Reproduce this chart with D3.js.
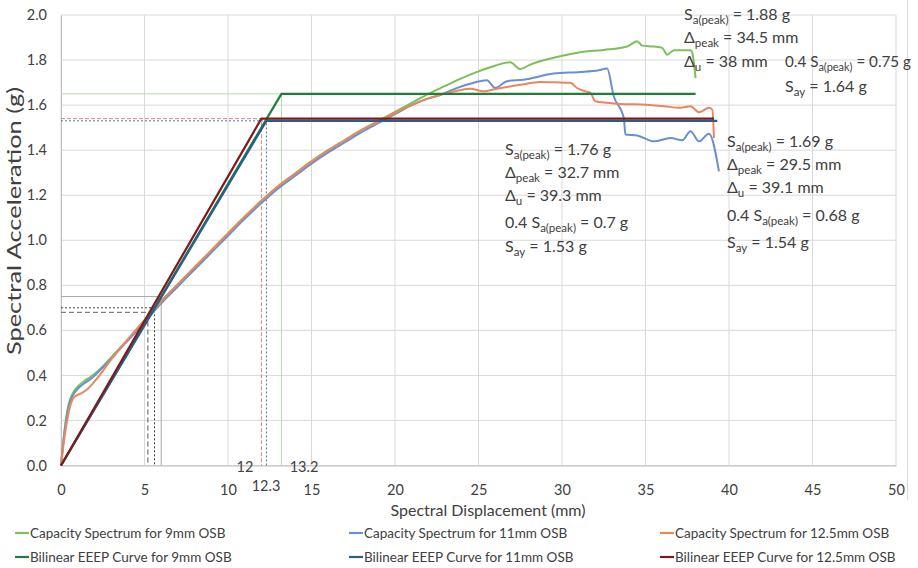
<!DOCTYPE html>
<html>
<head>
<meta charset="utf-8">
<script src="https://cdn.jsdelivr.net/npm/d3@7"></script>
<style>
  body { margin: 0; background: #fff; }
  svg text { font-family: Lato, "Open Sans", sans-serif; fill: #404040; }
</style>
</head>
<body>
<svg id="chart" width="918" height="568"></svg>
<script>
// capacity spectra [Sd (mm), Sa (g)]
const cap9 = [
  [0, 0], [0.2, 0.15], [0.45, 0.27], [0.7, 0.32], [1.0, 0.35], [1.4, 0.375], [1.8, 0.395],
  [2.5, 0.44], [3.5, 0.52], [4.5, 0.6], [5.4, 0.68], [6, 0.73], [7, 0.805], [8, 0.88],
  [9, 0.955], [10, 1.03], [11, 1.105], [12, 1.175], [13, 1.24], [14, 1.295], [15, 1.35],
  [16, 1.4], [17, 1.445], [18, 1.49], [19, 1.53], [20, 1.57], [21, 1.61], [22, 1.65],
  [23, 1.685], [24, 1.72], [25, 1.75], [26, 1.775], [26.9, 1.79], [27.5, 1.76], [28.1, 1.78],
  [29.5, 1.81], [31.1, 1.835], [32.5, 1.845], [33.9, 1.86], [34.5, 1.884], [34.8, 1.864],
  [35.5, 1.86], [36, 1.854], [36.3, 1.824], [36.7, 1.844], [37.7, 1.844], [37.8, 1.832], [38.0, 1.72]
];
const cap11 = [
  [0, 0], [0.2, 0.14], [0.45, 0.26], [0.7, 0.31], [1.0, 0.34], [1.4, 0.365], [1.8, 0.385],
  [2.5, 0.435], [3.5, 0.515], [4.5, 0.595], [5.4, 0.67], [6, 0.72], [7, 0.795], [8, 0.87],
  [9, 0.945], [10, 1.02], [11, 1.095], [12, 1.165], [13, 1.23], [14, 1.285], [15, 1.34],
  [16, 1.39], [17, 1.435], [18, 1.48], [19, 1.52], [20, 1.56], [21, 1.6], [22, 1.63],
  [22.7, 1.645], [23.5, 1.67], [24.5, 1.695], [25.5, 1.71], [26, 1.676], [26.7, 1.706],
  [27.7, 1.713], [29.5, 1.74], [31.1, 1.747], [32.2, 1.755], [32.7, 1.762], [33.1, 1.639],
  [33.7, 1.543], [33.8, 1.469], [34.5, 1.465], [35.5, 1.439], [36.5, 1.454], [37.2, 1.444],
  [37.7, 1.484], [38.2, 1.439], [38.8, 1.473], [39.4, 1.306]
];
const cap125 = [
  [0, 0], [0.2, 0.12], [0.5, 0.25], [0.8, 0.305], [1.2, 0.32], [1.6, 0.34], [2.2, 0.39],
  [3, 0.47], [4, 0.56], [5, 0.645], [6, 0.728], [7, 0.805], [8, 0.88], [9, 0.955],
  [10, 1.03], [11, 1.105], [12, 1.175], [13, 1.24], [14, 1.295], [15, 1.35], [16, 1.4],
  [17, 1.445], [18, 1.49], [19, 1.525], [20, 1.565], [21, 1.6], [22, 1.63], [22.7, 1.645],
  [23.5, 1.66], [24.5, 1.673], [25.3, 1.661], [26.1, 1.673], [27.5, 1.69], [28.7, 1.703],
  [29.5, 1.701], [30.5, 1.699], [30.9, 1.676], [31.4, 1.661], [31.7, 1.654], [32.0, 1.617],
  [32.7, 1.61], [33.5, 1.605], [35.1, 1.602], [36.1, 1.595], [37.1, 1.588], [37.7, 1.595],
  [38.2, 1.568], [38.8, 1.588], [39.0, 1.58], [39.1, 1.454]
];

// bilinear EEEP curves
const bil9 = [[0, 0], [13.2, 1.65], [38, 1.65]];
const bil11 = [[0, 0], [12.3, 1.53], [39.3, 1.53]];
const bil125 = [[0, 0], [12, 1.54], [39.1, 1.54]];

// guide lines: [Sd, Sa]
const guides = [
  {pt: [13.2, 1.65], color: '#b5dba0', dash: null, w: 1},
  {pt: [12, 1.54], color: '#c98a86', dash: '4,2', w: 1},
  {pt: [12.3, 1.53], color: '#4a6fc0', dash: '2,2', w: 1},
  {pt: [6.0, 0.75], color: '#a6a6a6', dash: null, w: 1},
  {pt: [5.6, 0.70], color: '#404040', dash: '2,2', w: 1},
  {pt: [5.2, 0.68], color: '#7f7f7f', dash: '5,3', w: 1.3}
];

const xTicks = [0, 5, 10, 15, 20, 25, 30, 35, 40, 45, 50];
const yTicks = [0, 0.2, 0.4, 0.6, 0.8, 1.0, 1.2, 1.4, 1.6, 1.8, 2.0];

const seriesNames = [
  'Capacity Spectrum for 9mm OSB', 'Capacity Spectrum for 11mm OSB', 'Capacity Spectrum for 12.5mm OSB',
  'Bilinear EEEP Curve for 9mm OSB', 'Bilinear EEEP Curve for 11mm OSB', 'Bilinear EEEP Curve for 12.5mm OSB'
];
const seriesColors = ['#7dbf5a', '#6a8fd0', '#e8875e', '#1f7e3a', '#24608a', '#7d1a1a'];
const seriesData = [cap9, cap11, cap125, bil9, bil11, bil125];

const svg = d3.select('#chart');
const x = d3.scaleLinear().domain([0, 50]).range([61, 896]);
const y = d3.scaleLinear().domain([0, 2]).range([465.5, 15]);

// chart area edge on the right
svg.append('line').attr('x1', 907.5).attr('x2', 907.5).attr('y1', 0).attr('y2', 500)
  .attr('stroke', '#d9d9d9');

// gridlines
svg.append('g').selectAll('line').data(xTicks).join('line')
  .attr('x1', d => x(d)).attr('x2', d => x(d))
  .attr('y1', y(0)).attr('y2', y(2))
  .attr('stroke', '#d9d9d9').attr('stroke-width', 1);
svg.append('g').selectAll('line').data(yTicks).join('line')
  .attr('x1', x(0)).attr('x2', x(50))
  .attr('y1', d => y(d)).attr('y2', d => y(d))
  .attr('stroke', '#d9d9d9').attr('stroke-width', 1);

// axes
const xAxis = svg.append('g').attr('transform', `translate(0,${y(0)})`)
  .call(d3.axisBottom(x).tickValues(xTicks).tickSize(0).tickPadding(19).tickFormat(d3.format('d')));
const yAxis = svg.append('g').attr('transform', `translate(${x(0)},0)`)
  .call(d3.axisLeft(y).tickValues(yTicks).tickSize(0).tickPadding(14).tickFormat(d3.format('.1f')));
[xAxis, yAxis].forEach(a => {
  a.select('.domain').attr('stroke', '#bfbfbf');
  a.selectAll('text').style('font-size', '14.5px').attr('fill', '#404040');
});

// guide lines
guides.forEach(g => {
  svg.append('polyline')
    .attr('points', [[x(0), y(g.pt[1])], [x(g.pt[0]), y(g.pt[1])], [x(g.pt[0]), y(0)]].join(' '))
    .attr('fill', 'none').attr('stroke', g.color).attr('stroke-width', g.w)
    .attr('stroke-dasharray', g.dash);
});

// curves
const line = d3.line().x(d => x(d[0])).y(d => y(d[1]));
seriesData.forEach((s, i) => {
  svg.append('path').datum(s)
    .attr('d', line.curve(i < 3 ? d3.curveMonotoneX : d3.curveLinear))
    .attr('fill', 'none').attr('stroke', seriesColors[i])
    .attr('stroke-width', i < 3 ? 2 : 2.2).attr('stroke-linejoin', 'round');
});

// extra labels at yield displacements
[['12', 245, 472], ['12.3', 266, 491], ['13.2', 304, 472]].forEach(l => {
  svg.append('text').text(l[0]).attr('x', l[1]).attr('y', l[2])
    .attr('text-anchor', 'middle').style('font-size', '14.5px');
});

// axis titles
svg.append('text').text('Spectral Displacement (mm)')
  .attr('x', 488).attr('y', 516).attr('text-anchor', 'middle').style('font-size', '16px');
svg.append('text').text('Spectral Acceleration (g)')
  .attr('transform', 'translate(21,221) rotate(-90)').attr('text-anchor', 'middle')
  .attr('textLength', 268).attr('lengthAdjust', 'spacingAndGlyphs').style('font-size', '19px');

// annotations
function note(xp, yp, parts, len) {
  const t = svg.append('text').attr('x', xp).attr('y', yp).style('font-size', '16px').attr('fill', '#262626');
  if (len) t.attr('textLength', len).attr('lengthAdjust', 'spacingAndGlyphs');
  parts.forEach(p => {
    if (p.sub) {
      t.append('tspan').text(p.t).attr('dy', 4).style('font-size', '11.5px');
    } else {
      t.append('tspan').text(p.t).attr('dy', p.after ? -4 : 0);
    }
  });
}
function block(xp, ys, peak, dpeak, du, frac, say) {
  note(xp, ys[0], [{t: 'S'}, {t: 'a(peak)', sub: true}, {t: ' = ' + peak + ' g', after: true}]);
  note(xp, ys[1], [{t: 'Δ'}, {t: 'peak', sub: true}, {t: ' = ' + dpeak + ' mm', after: true}]);
  note(xp, ys[2], [{t: 'Δ'}, {t: 'u', sub: true}, {t: ' = ' + du + ' mm', after: true}]);
  if (frac !== null) {
    note(xp, ys[3], [{t: '0.4 S'}, {t: 'a(peak)', sub: true}, {t: ' = ' + frac + ' g', after: true}]);
    note(xp, ys[4], [{t: 'S'}, {t: 'ay', sub: true}, {t: ' = ' + say + ' g', after: true}]);
  }
}
block(684, [20, 43, 67], '1.88', '34.5', '38', null, null);
note(785, 67, [{t: '0.4 S'}, {t: 'a(peak)', sub: true}, {t: ' = 0.75 g', after: true}], 126);
note(785, 92, [{t: 'S'}, {t: 'ay', sub: true}, {t: ' = 1.64 g', after: true}]);
block(505, [155, 178, 201, 228, 252], '1.76', '32.7', '39.3', '0.7', '1.53');
block(727, [147, 170, 193, 221, 248], '1.69', '29.5', '39.1', '0.68', '1.54');

// legend
const legX = [15, 349, 660];
const legY = [538, 562];
seriesNames.forEach((n, i) => {
  const lx = legX[i % 3], ly = legY[Math.floor(i / 3)];
  svg.append('line').attr('x1', lx).attr('x2', lx + 14).attr('y1', ly - 5).attr('y2', ly - 5)
    .attr('stroke', seriesColors[i]).attr('stroke-width', 2.2);
  svg.append('text').text(n).attr('x', lx + 15).attr('y', ly).style('font-size', '13.5px');
});
</script>
</body>
</html>
